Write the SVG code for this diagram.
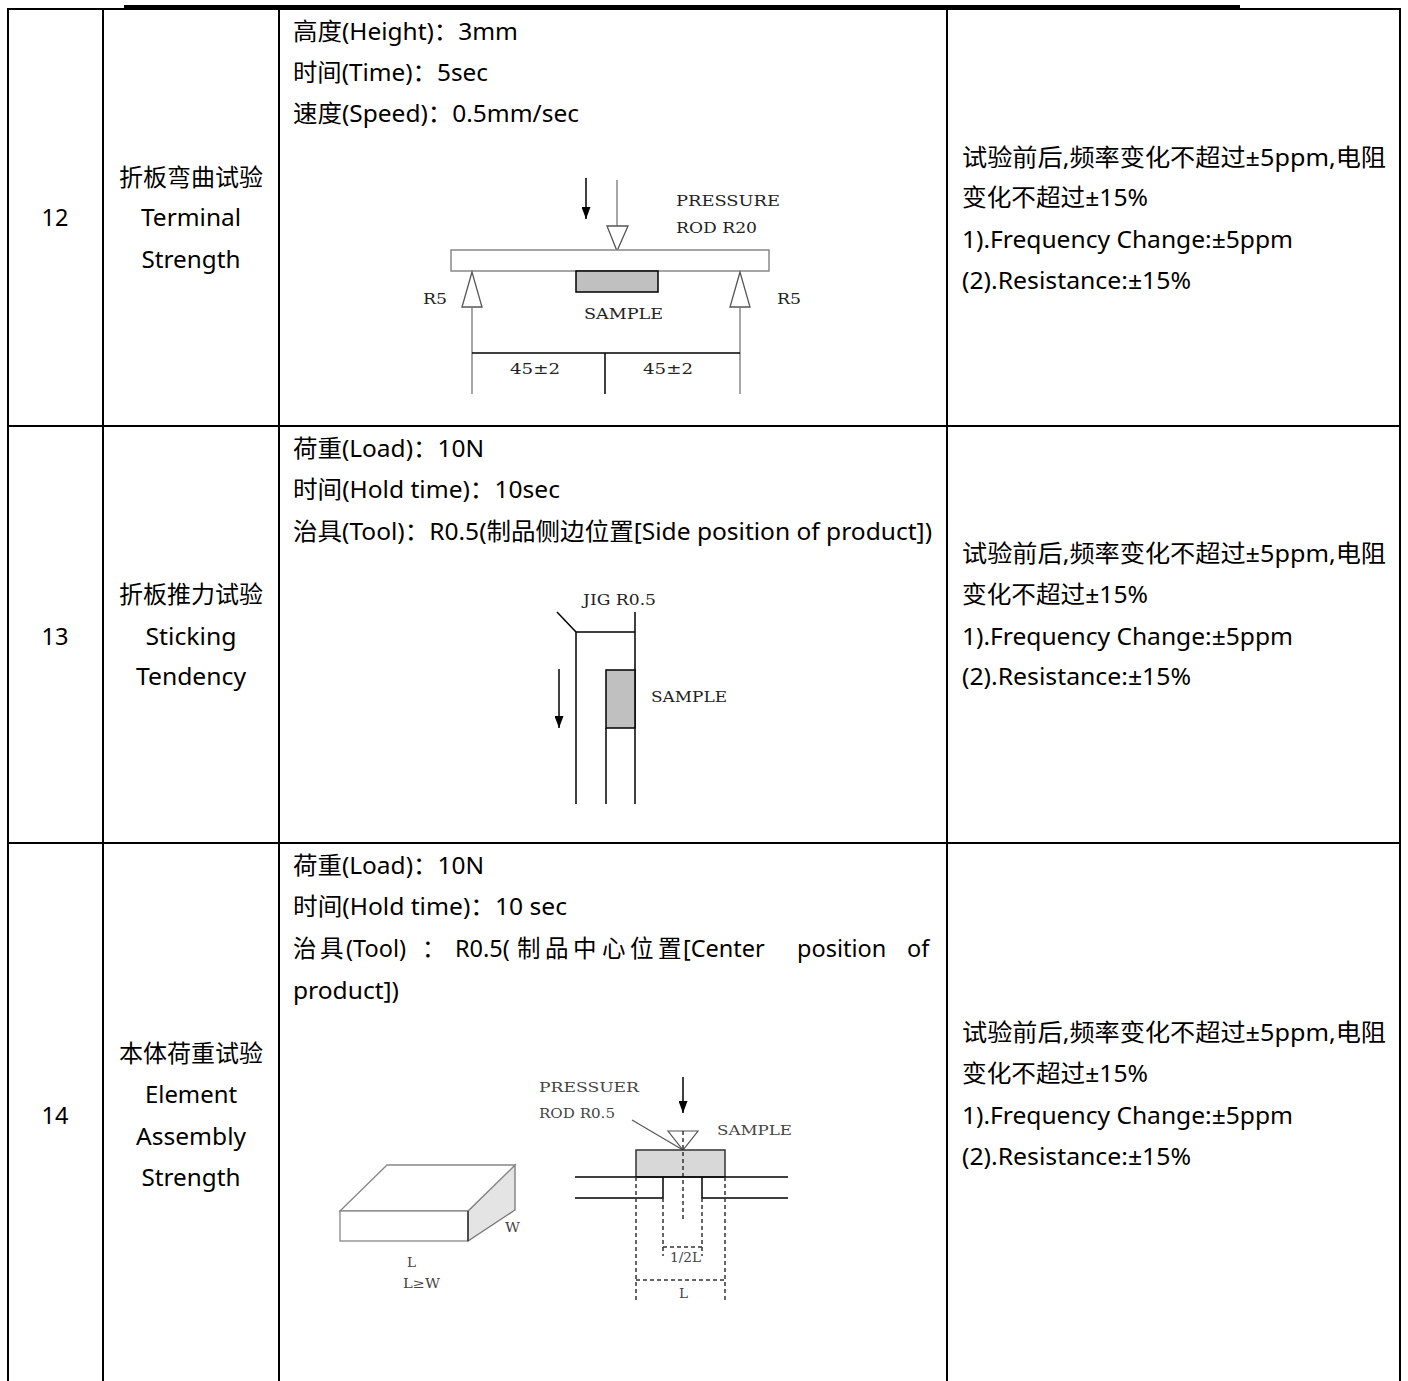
<svg xmlns="http://www.w3.org/2000/svg" width="1408" height="1381" viewBox="0 0 1408 1381">
<defs>
<style>
.t{font-family:"Noto Sans","Noto Sans CJK SC",sans-serif;font-size:23.5px;fill:#000}
.c{text-anchor:middle}
.s{font-family:"DejaVu Serif","Liberation Serif",serif;font-size:15px;fill:#222}
.ss{font-family:"DejaVu Serif","Liberation Serif",serif;font-size:13px;fill:#444}
.grid{stroke:#000;stroke-width:2;fill:none}
.ln{stroke:#000;stroke-width:1.5;fill:none}
.gl{stroke:#777;stroke-width:1.3;fill:none}
.dash{stroke:#333;stroke-width:1.5;fill:none;stroke-dasharray:4 3}
</style>
<marker id="ah" markerWidth="12" markerHeight="9" refX="12" refY="4.5" orient="auto" markerUnits="userSpaceOnUse" viewBox="0 0 12 9">
<path d="M0,0 L12,4.5 L0,9 Z" fill="#000"/>
</marker>
</defs>
<rect width="1408" height="1381" fill="#fff"/>
<g id="table">
<line class="grid" x1="7" y1="9" x2="1401" y2="9"/>
<line x1="124" y1="6.5" x2="1240" y2="6.5" stroke="#000" stroke-width="3"/>
<line class="grid" x1="8" y1="8" x2="8" y2="1381"/>
<line class="grid" x1="103" y1="8" x2="103" y2="1381"/>
<line class="grid" x1="279" y1="8" x2="279" y2="1381"/>
<line class="grid" x1="947" y1="8" x2="947" y2="1381"/>
<line class="grid" x1="1400" y1="8" x2="1400" y2="1381"/>
<line class="grid" x1="7" y1="426" x2="1401" y2="426"/>
<line class="grid" x1="7" y1="843" x2="1401" y2="843"/>
</g>
<g id="row12">
<text class="t c" x="55" y="226">12</text>
<text class="t c" x="191" y="186" textLength="144" lengthAdjust="spacingAndGlyphs">折板弯曲试验</text>
<text class="t c" x="191" y="226" textLength="100" lengthAdjust="spacingAndGlyphs">Terminal</text>
<text class="t c" x="191" y="268" textLength="99" lengthAdjust="spacingAndGlyphs">Strength</text>
<text class="t" x="293" y="40" textLength="225" lengthAdjust="spacingAndGlyphs">高度(Height)：3mm</text>
<text class="t" x="293" y="81" textLength="195" lengthAdjust="spacingAndGlyphs">时间(Time)：5sec</text>
<text class="t" x="293" y="122" textLength="286" lengthAdjust="spacingAndGlyphs">速度(Speed)：0.5mm/sec</text>
<text class="t" x="962" y="166" textLength="424" lengthAdjust="spacingAndGlyphs">试验前后,频率变化不超过±5ppm,电阻</text>
<text class="t" x="962" y="206" textLength="186" lengthAdjust="spacingAndGlyphs">变化不超过±15%</text>
<text class="t" x="962" y="248" textLength="331" lengthAdjust="spacingAndGlyphs">1).Frequency Change:±5ppm</text>
<text class="t" x="962" y="289" textLength="229" lengthAdjust="spacingAndGlyphs">(2).Resistance:±15%</text>
</g>
<g id="fig12">
<line class="ln" x1="586" y1="178" x2="586" y2="219" marker-end="url(#ah)"/>
<line class="gl" x1="617" y1="180" x2="617" y2="226"/>
<path d="M607,226 L628,226 L617,251 Z" fill="#fff" stroke="#555" stroke-width="1.3"/>
<rect x="451" y="250" width="318" height="21" fill="#fff" stroke="#888" stroke-width="1.5"/>
<rect x="576" y="271" width="82" height="21" fill="#c0c0c0" stroke="#000" stroke-width="1.5"/>
<path d="M472,272 L462,307 L482,307 Z" fill="#fff" stroke="#555" stroke-width="1.3"/>
<path d="M740,272 L730,307 L750,307 Z" fill="#fff" stroke="#555" stroke-width="1.3"/>
<line class="gl" x1="472" y1="307" x2="472" y2="394"/>
<line class="gl" x1="740" y1="307" x2="740" y2="394"/>
<line class="ln" x1="472" y1="353" x2="740" y2="353"/>
<line class="ln" x1="605" y1="353" x2="605" y2="394"/>
<text class="s" x="676" y="206" textLength="104" lengthAdjust="spacingAndGlyphs">PRESSURE</text>
<text class="s" x="676" y="233" textLength="81" lengthAdjust="spacingAndGlyphs">ROD R20</text>
<text class="s" x="423" y="304" textLength="24" lengthAdjust="spacingAndGlyphs">R5</text>
<text class="s" x="777" y="304" textLength="24" lengthAdjust="spacingAndGlyphs">R5</text>
<text class="s" x="584" y="319" textLength="79" lengthAdjust="spacingAndGlyphs">SAMPLE</text>
<text class="s" x="510" y="374" textLength="50" lengthAdjust="spacingAndGlyphs">45±2</text>
<text class="s" x="643" y="374" textLength="50" lengthAdjust="spacingAndGlyphs">45±2</text>
</g>
<g id="row13">
<text class="t c" x="55" y="645">13</text>
<text class="t c" x="191" y="603" textLength="144" lengthAdjust="spacingAndGlyphs">折板推力试验</text>
<text class="t c" x="191" y="645" textLength="91" lengthAdjust="spacingAndGlyphs">Sticking</text>
<text class="t c" x="191" y="685" textLength="110" lengthAdjust="spacingAndGlyphs">Tendency</text>
<text class="t" x="293" y="457" textLength="191" lengthAdjust="spacingAndGlyphs">荷重(Load)：10N</text>
<text class="t" x="293" y="498" textLength="267" lengthAdjust="spacingAndGlyphs">时间(Hold time)：10sec</text>
<text class="t" x="293" y="540" textLength="639" lengthAdjust="spacingAndGlyphs">治具(Tool)：R0.5(制品侧边位置[Side position of product])</text>
<text class="t" x="962" y="562" textLength="424" lengthAdjust="spacingAndGlyphs">试验前后,频率变化不超过±5ppm,电阻</text>
<text class="t" x="962" y="603" textLength="186" lengthAdjust="spacingAndGlyphs">变化不超过±15%</text>
<text class="t" x="962" y="645" textLength="331" lengthAdjust="spacingAndGlyphs">1).Frequency Change:±5ppm</text>
<text class="t" x="962" y="685" textLength="229" lengthAdjust="spacingAndGlyphs">(2).Resistance:±15%</text>
</g>
<g id="fig13">
<text class="s" x="583" y="605" textLength="73" lengthAdjust="spacingAndGlyphs">JIG R0.5</text>
<line class="ln" x1="557" y1="612" x2="576" y2="632"/>
<line class="ln" x1="576" y1="632" x2="635" y2="632"/>
<line class="ln" x1="576" y1="632" x2="576" y2="804"/>
<line class="ln" x1="635" y1="612" x2="635" y2="804"/>
<rect x="606" y="670" width="29" height="58" fill="#c0c0c0" stroke="#000" stroke-width="1.5"/>
<line class="ln" x1="606" y1="728" x2="606" y2="804"/>
<line class="ln" x1="559" y1="669" x2="559" y2="728" marker-end="url(#ah)"/>
<text class="s" x="651" y="702" textLength="76" lengthAdjust="spacingAndGlyphs">SAMPLE</text>
</g>
<g id="row14">
<text class="t c" x="55" y="1124">14</text>
<text class="t c" x="191" y="1062" textLength="144" lengthAdjust="spacingAndGlyphs">本体荷重试验</text>
<text class="t c" x="191" y="1103" textLength="92" lengthAdjust="spacingAndGlyphs">Element</text>
<text class="t c" x="191" y="1145" textLength="110" lengthAdjust="spacingAndGlyphs">Assembly</text>
<text class="t c" x="191" y="1186" textLength="99" lengthAdjust="spacingAndGlyphs">Strength</text>
<text class="t" x="293" y="874" textLength="191" lengthAdjust="spacingAndGlyphs">荷重(Load)：10N</text>
<text class="t" x="293" y="915" textLength="274" lengthAdjust="spacingAndGlyphs">时间(Hold time)：10 sec</text>
<text class="t" y="957"><tspan x="293">治</tspan><tspan x="320">具</tspan><tspan x="346">(Tool)</tspan><tspan x="422">：</tspan><tspan x="455">R0.5(</tspan><tspan x="517">制</tspan><tspan x="545">品</tspan><tspan x="573">中</tspan><tspan x="602">心</tspan><tspan x="630">位</tspan><tspan x="658">置</tspan><tspan x="683">[Center</tspan><tspan x="797">position</tspan><tspan x="907">of</tspan></text>
<text class="t" x="293" y="999" textLength="106" lengthAdjust="spacingAndGlyphs">product])</text>
<text class="t" x="962" y="1041" textLength="424" lengthAdjust="spacingAndGlyphs">试验前后,频率变化不超过±5ppm,电阻</text>
<text class="t" x="962" y="1082" textLength="186" lengthAdjust="spacingAndGlyphs">变化不超过±15%</text>
<text class="t" x="962" y="1124" textLength="331" lengthAdjust="spacingAndGlyphs">1).Frequency Change:±5ppm</text>
<text class="t" x="962" y="1165" textLength="229" lengthAdjust="spacingAndGlyphs">(2).Resistance:±15%</text>
</g>
<g id="fig14a">
<path d="M468,1211 L515,1165 L515,1210 L468,1241 Z" fill="#e4e4e4" stroke="#777" stroke-width="1.3"/>
<path d="M340,1211 L387,1165 L515,1165 L468,1211 Z" fill="#fff" stroke="#888" stroke-width="1.3"/>
<rect x="340" y="1211" width="128" height="30" fill="#fff" stroke="#888" stroke-width="1.3"/>
<line x1="468" y1="1211" x2="468" y2="1241" stroke="#333" stroke-width="1.5"/>
<text class="ss" x="505" y="1232" textLength="15" lengthAdjust="spacingAndGlyphs">W</text>
<text class="ss" x="407" y="1267" textLength="9" lengthAdjust="spacingAndGlyphs">L</text>
<text class="ss" x="403" y="1288" textLength="37" lengthAdjust="spacingAndGlyphs">L≥W</text>
</g>
<g id="fig14b">
<text class="ss" x="539" y="1092" textLength="100" lengthAdjust="spacingAndGlyphs">PRESSUER</text>
<text class="ss" x="539" y="1118" textLength="76" lengthAdjust="spacingAndGlyphs">ROD R0.5</text>
<text class="ss" x="717" y="1135" textLength="75" lengthAdjust="spacingAndGlyphs">SAMPLE</text>
<line class="ln" x1="683" y1="1077" x2="683" y2="1113" marker-end="url(#ah)"/>
<path d="M668,1131 L698,1131 L683,1150 Z" fill="#fff" stroke="#555" stroke-width="1.2"/>
<line x1="632" y1="1120" x2="683" y2="1150" stroke="#555" stroke-width="1.2"/>
<rect x="636" y="1150" width="89" height="27" fill="#d8d8d8" stroke="#333" stroke-width="1.5"/>
<line class="dash" x1="683" y1="1131" x2="683" y2="1220"/>
<line class="ln" x1="575" y1="1177" x2="788" y2="1177"/>
<path class="ln" d="M575,1198 L663,1198 L663,1177"/>
<path class="ln" d="M788,1198 L702,1198 L702,1177"/>
<line class="dash" x1="636" y1="1177" x2="636" y2="1300"/>
<line class="dash" x1="725" y1="1177" x2="725" y2="1300"/>
<line class="dash" x1="663" y1="1198" x2="663" y2="1256"/>
<line class="dash" x1="702" y1="1198" x2="702" y2="1256"/>
<line class="dash" x1="663" y1="1247" x2="702" y2="1247"/>
<line class="dash" x1="636" y1="1280" x2="725" y2="1280"/>
<text class="ss" x="670" y="1262" textLength="31" lengthAdjust="spacingAndGlyphs">1/2L</text>
<text class="ss" x="679" y="1298" textLength="9" lengthAdjust="spacingAndGlyphs">L</text>
</g>
</svg>
